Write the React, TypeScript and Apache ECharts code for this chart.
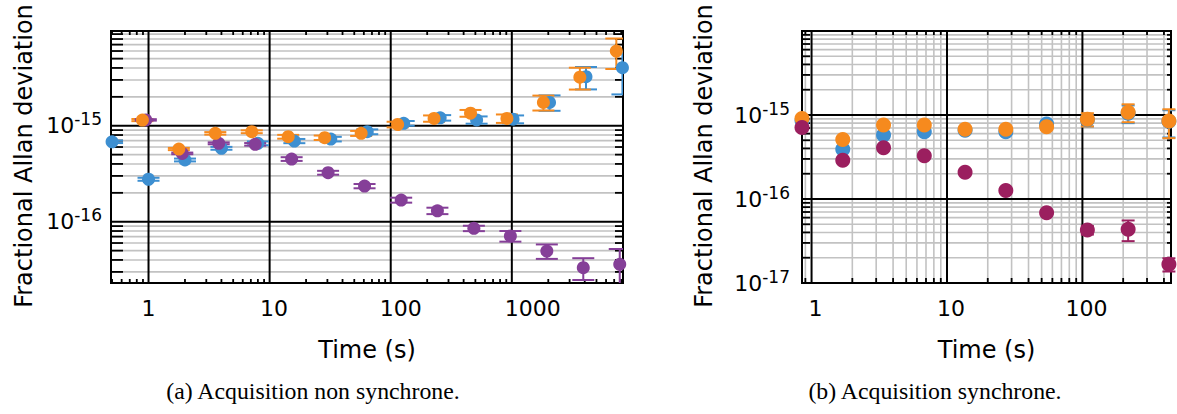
import React, { useEffect, useRef } from 'react';
import * as echarts from 'echarts';

// ---------- (a) Acquisition non synchrone ----------
const tauBlueA = [0.5, 1, 2, 4, 8, 16, 32, 64, 128, 256, 512, 1024, 2048, 4096, 8192];
const devBlueA = [6.8e-16, 2.77e-16, 4.4e-16, 5.82e-16, 6.56e-16, 6.93e-16, 7.26e-16, 8.66e-16, 1.06e-15, 1.21e-15, 1.15e-15, 1.17e-15, 1.75e-15, 3.24e-15, 4.02e-15];
const errBlueA = [0.2e-16, 0.1e-16, 0.15e-16, 0.2e-16, 0.3e-16, 0.35e-16, 0.4e-16, 0.5e-16, 0.6e-16, 0.8e-16, 1.0e-16, 1.1e-16, 3.2e-16, 8.5e-16, 1.9e-15];

const tauOrangeA = [0.89, 1.78, 3.56, 7.12, 14.24, 28.5, 57, 114, 228, 456, 911, 1823, 3645, 7291];
const devOrangeA = [1.146e-15, 5.72e-16, 8.33e-16, 8.66e-16, 7.68e-16, 7.5e-16, 8.33e-16, 1.03e-15, 1.19e-15, 1.35e-15, 1.19e-15, 1.75e-15, 3.2e-15, 6.0e-15];
const errOrangeA = [0.3e-16, 0.15e-16, 0.25e-16, 0.3e-16, 0.35e-16, 0.4e-16, 0.5e-16, 0.7e-16, 0.9e-16, 1.1e-16, 1.2e-16, 3.1e-16, 8.2e-16, 2.1e-15];

const tauPurpleA = [0.95, 1.9, 3.8, 7.6, 15.2, 30.4, 60.8, 122, 243, 486, 973, 1946, 3891, 7782];
const devPurpleA = [1.15e-15, 5.15e-16, 6.56e-16, 6.4e-16, 4.5e-16, 3.24e-16, 2.35e-16, 1.68e-16, 1.3e-16, 8.53e-17, 7.1e-17, 4.95e-17, 3.32e-17, 3.6e-17];
const errPurpleA = [0.2e-16, 0.1e-16, 0.15e-16, 0.2e-16, 0.2e-16, 0.15e-16, 0.12e-16, 0.1e-16, 0.1e-16, 0.55e-17, 0.9e-17, 0.85e-17, 0.85e-17, 1.6e-17];

// ---------- (b) Acquisition synchrone ----------
const tauB = [0.85, 1.7, 3.4, 6.8, 13.6, 27.2, 54.4, 108.8, 217.6, 435.2];
const devBlueB = [8.6e-16, 3.9e-16, 5.78e-16, 6.3e-16, 6.6e-16, 6.3e-16, 7.8e-16, 8.8e-16, 1.05e-15, 8.4e-16];
const errBlueB = [0.1e-16, 0.1e-16, 0.15e-16, 0.2e-16, 0.25e-16, 0.35e-16, 0.5e-16, 1.5e-16, 2.5e-16, 3.0e-16];
const devOrangeB = [9.1e-16, 5.1e-16, 7.6e-16, 7.6e-16, 6.75e-16, 6.75e-16, 7.26e-16, 8.9e-16, 1.08e-15, 8.5e-16];
const errOrangeB = [0.1e-16, 0.1e-16, 0.1e-16, 0.15e-16, 0.2e-16, 0.3e-16, 0.5e-16, 1.6e-16, 2.6e-16, 3.2e-16];
const devMagentaB = [7.1e-16, 2.9e-16, 4.08e-16, 3.28e-16, 2.08e-16, 1.26e-16, 6.87e-17, 4.27e-17, 4.35e-17, 1.67e-17];
const errMagentaB = [0.1e-16, 0.05e-16, 0.06e-16, 0.06e-16, 0.04e-16, 0.03e-16, 0.2e-17, 0.5e-17, 1.2e-17, 0.3e-17];

// axis ranges
const xRangeA = [0.49, 8280];
const yRangeA = [2.3e-17, 9.7e-15];
const xRangeB = [0.85, 451];
const yRangeB = [1e-17, 1e-14];

const yLabelsA = [-16, -15];
const yLabelsB = [-17, -16, -15];

const BLUE = '#3d8fd1';
const ORANGE = '#f68a1e';
const PURPLE = '#853f98';
const MAGENTA = '#9b1f5f';
const FONT = 'DejaVu Sans';

function gridItems(xr: number[], yr: number[], vMinor: boolean) {
  const gray: number[][] = [];
  const black: number[][] = [];
  const ticks: number[][] = [];
  const inside = (v: number, r: number[]) => v > r[0] * 1.0001 && v < r[1] * 0.9999;
  for (let k = Math.floor(Math.log10(xr[0])); k <= Math.ceil(Math.log10(xr[1])); k++) {
    for (let m = 1; m <= 9; m++) {
      const v = m * Math.pow(10, k);
      if (!inside(v, xr)) continue;
      if (m === 1) black.push([v, yr[0], 0]);
      else {
        if (vMinor) gray.push([v, yr[0], 1]);
        ticks.push([v, yr[0], 4]);
      }
    }
  }
  for (let k = Math.floor(Math.log10(yr[0])); k <= Math.ceil(Math.log10(yr[1])); k++) {
    for (let m = 1; m <= 9; m++) {
      const v = m * Math.pow(10, k);
      if (!inside(v, yr)) continue;
      if (m === 1) black.push([xr[0], v, 2]);
      else {
        gray.push([xr[0], v, 3]);
        ticks.push([xr[0], v, 5]);
      }
    }
  }
  return [...gray, ...black, ...ticks, [xr[0], yr[0], 6]];
}

function gridRender(tk: { xb: number; xt: number; yl: number; yr: number }) {
  return (params: any, api: any) => {
    const cs = params.coordSys;
    const kind = api.value(2);
    const p = api.coord([api.value(0), api.value(1)]);
    const x0 = cs.x, x1 = cs.x + cs.width, y0 = cs.y, y1 = cs.y + cs.height;
    const gray = { stroke: '#c2c2c2', lineWidth: 1.6 };
    const black = { stroke: '#000', lineWidth: 2 };
    const tick = { stroke: '#000', lineWidth: 1.8 };
    switch (kind) {
      case 0:
        return { type: 'line', shape: { x1: p[0], y1: y0, x2: p[0], y2: y1 }, style: black };
      case 1:
        return { type: 'line', shape: { x1: p[0], y1: y0, x2: p[0], y2: y1 }, style: gray };
      case 2:
        return { type: 'line', shape: { x1: x0, y1: p[1], x2: x1, y2: p[1] }, style: black };
      case 3:
        return { type: 'line', shape: { x1: x0, y1: p[1], x2: x1, y2: p[1] }, style: gray };
      case 4:
        return {
          type: 'group',
          children: [
            { type: 'line', shape: { x1: p[0], y1: y1, x2: p[0], y2: y1 - tk.xb }, style: tick },
            { type: 'line', shape: { x1: p[0], y1: y0, x2: p[0], y2: y0 + tk.xt }, style: tick },
          ],
        };
      case 5:
        return {
          type: 'group',
          children: [
            { type: 'line', shape: { x1: x0, y1: p[1], x2: x0 + tk.yl, y2: p[1] }, style: tick },
            { type: 'line', shape: { x1: x1, y1: p[1], x2: x1 - tk.yr, y2: p[1] }, style: tick },
          ],
        };
      default:
        return {
          type: 'rect',
          shape: { x: x0, y: y0, width: cs.width, height: cs.height },
          style: { fill: 'none', stroke: '#000', lineWidth: 2 },
        };
    }
  };
}

function errSeries(idx: number, taus: number[], devs: number[], errs: number[], color: string, capHalf: number, clip: boolean) {
  return {
    type: 'custom',
    xAxisIndex: idx,
    yAxisIndex: idx,
    clip,
    z: 3,
    silent: true,
    encode: { x: 0, y: 1 },
    data: taus.map((t, i) => [t, devs[i], errs[i]]),
    renderItem: (params: any, api: any) => {
      const x = api.value(0), y = api.value(1), e = api.value(2);
      const lo = api.coord([x, Math.max(y - e, 1e-20)]);
      const hi = api.coord([x, y + e]);
      const st = { stroke: color, lineWidth: 2 };
      return {
        type: 'group',
        children: [
          { type: 'line', shape: { x1: lo[0], y1: lo[1], x2: hi[0], y2: hi[1] }, style: st },
          { type: 'line', shape: { x1: lo[0] - capHalf, y1: lo[1], x2: lo[0] + capHalf, y2: lo[1] }, style: st },
          { type: 'line', shape: { x1: hi[0] - capHalf, y1: hi[1], x2: hi[0] + capHalf, y2: hi[1] }, style: st },
        ],
      };
    },
  };
}

function scatterSeries(idx: number, taus: number[], devs: number[], color: string, size: number, clip: boolean) {
  return {
    type: 'scatter',
    xAxisIndex: idx,
    yAxisIndex: idx,
    clip,
    z: 3,
    silent: true,
    symbol: 'circle',
    symbolSize: size,
    itemStyle: { color, opacity: 1 },
    data: taus.map((t, i) => [t, devs[i]]),
  };
}

function xLabelFormatter(v: number) {
  const l = Math.log10(v);
  const r = Math.round(l);
  if (Math.abs(l - r) > 1e-6) return '';
  return `{p${r}|${Math.round(Math.pow(10, r))}}`;
}

function yLabelFormatter(allowed: number[]) {
  return (v: number) => {
    const l = Math.log10(v);
    const r = Math.round(l);
    if (Math.abs(l - r) > 1e-6 || allowed.indexOf(r) < 0) return '';
    return `{b|10}{s|${r}}`;
  };
}

const yRich = {
  b: { fontSize: 22, fontFamily: FONT, color: '#000', lineHeight: 30 },
  s: { fontSize: 17, fontFamily: FONT, color: '#000', lineHeight: 14, verticalAlign: 'top' },
};

function xRich(pads: number[]) {
  const o: any = {};
  pads.forEach((p, i) => {
    o['p' + i] = { fontSize: 22, fontFamily: FONT, color: '#000', padding: [0, 0, 0, p] };
  });
  return o;
}

export default function App() {
  const ref = useRef<HTMLDivElement>(null);
  useEffect(() => {
    document.body.style.margin = '0';
    if (!ref.current) return;
    const chart = echarts.init(ref.current, undefined, { renderer: 'svg' });
    const xAxisCommon = (gi: number, r: number[], pads: number[]) => ({
      type: 'log',
      logBase: 10,
      gridIndex: gi,
      min: r[0],
      max: r[1],
      axisLine: { show: false },
      axisTick: { show: false },
      splitLine: { show: false },
      axisLabel: { formatter: xLabelFormatter, margin: 14, rich: xRich(pads), showMinLabel: true, showMaxLabel: true },
      name: 'Time (s)',
      nameLocation: 'middle',
      nameGap: 55,
      nameTextStyle: { fontSize: 24, fontFamily: FONT, color: '#000' },
    });
    const yAxisCommon = (gi: number, r: number[], allowed: number[], margin: number) => ({
      type: 'log',
      logBase: 10,
      gridIndex: gi,
      min: r[0],
      max: r[1],
      axisLine: { show: false },
      axisTick: { show: false },
      splitLine: { show: false },
      axisLabel: { formatter: yLabelFormatter(allowed), margin, rich: yRich, showMinLabel: true, showMaxLabel: true },
    });
    chart.setOption({
      animation: false,
      backgroundColor: '#fff',
      grid: [
        { left: 111, top: 31, width: 512, height: 252, show: false },
        { left: 802, top: 31, width: 369, height: 252, show: false },
      ],
      xAxis: [xAxisCommon(0, xRangeA, [0, 9, 20, 42]), xAxisCommon(1, xRangeB, [8, 8, 8])],
      yAxis: [yAxisCommon(0, yRangeA, yLabelsA, 9), yAxisCommon(1, yRangeB, yLabelsB, 12)],
      series: [
        {
          type: 'custom', xAxisIndex: 0, yAxisIndex: 0, z: 1, silent: true, clip: false,
          encode: { x: 0, y: 1 },
          data: gridItems(xRangeA, yRangeA, false),
          renderItem: gridRender({ xb: 4, xt: 4, yl: 12, yr: 8 }),
        },
        {
          type: 'custom', xAxisIndex: 1, yAxisIndex: 1, z: 1, silent: true, clip: false,
          encode: { x: 0, y: 1 },
          data: gridItems(xRangeB, yRangeB, true),
          renderItem: gridRender({ xb: 5, xt: 4, yl: 8, yr: 4 }),
        },
        scatterSeries(0, tauBlueA, devBlueA, BLUE, 13, true),
        scatterSeries(0, tauPurpleA, devPurpleA, PURPLE, 13, true),
        scatterSeries(0, tauOrangeA, devOrangeA, ORANGE, 13, true),
        errSeries(0, tauBlueA, devBlueA, errBlueA, BLUE, 11, true),
        errSeries(0, tauOrangeA, devOrangeA, errOrangeA, ORANGE, 11, true),
        errSeries(0, tauPurpleA, devPurpleA, errPurpleA, PURPLE, 11, true),
        errSeries(1, tauB, devBlueB, errBlueB, BLUE, 6.5, false),
        scatterSeries(1, tauB, devBlueB, BLUE, 15, false),
        errSeries(1, tauB, devOrangeB, errOrangeB, ORANGE, 6.5, false),
        scatterSeries(1, tauB, devOrangeB, ORANGE, 15, false),
        errSeries(1, tauB, devMagentaB, errMagentaB, MAGENTA, 6.5, false),
        scatterSeries(1, tauB, devMagentaB, MAGENTA, 15, false),
      ],
      graphic: [
        {
          type: 'text', x: 23.5, y: 156, rotation: Math.PI / 2, silent: true,
          style: { text: 'Fractional Allan deviation', fontSize: 24, fontFamily: FONT, fill: '#000', align: 'center', verticalAlign: 'middle' },
        },
        {
          type: 'text', x: 703.5, y: 156, rotation: Math.PI / 2, silent: true,
          style: { text: 'Fractional Allan deviation', fontSize: 24, fontFamily: FONT, fill: '#000', align: 'center', verticalAlign: 'middle' },
        },
        {
          type: 'text', x: 313, y: 391, silent: true,
          style: { text: '(a) Acquisition non synchrone.', fontSize: 23.8, fontFamily: 'Liberation Serif', fill: '#000', align: 'center', verticalAlign: 'middle' },
        },
        {
          type: 'text', x: 935, y: 391, silent: true,
          style: { text: '(b) Acquisition synchrone.', fontSize: 23.8, fontFamily: 'Liberation Serif', fill: '#000', align: 'center', verticalAlign: 'middle' },
        },
      ],
    });
    return () => chart.dispose();
  }, []);
  return <div ref={ref} style={{ width: 1177, height: 414 }} />;
}
